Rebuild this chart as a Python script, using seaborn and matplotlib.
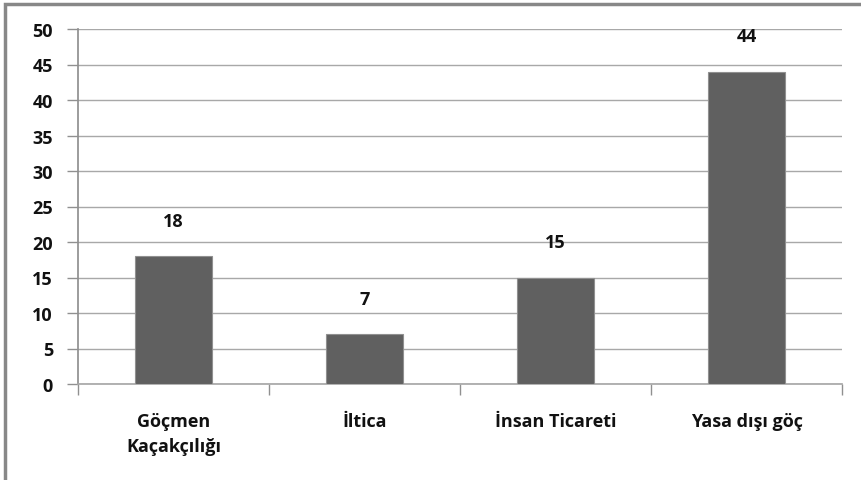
import matplotlib
matplotlib.use("Agg")
import matplotlib.pyplot as plt
import seaborn as sns
import pandas as pd
from matplotlib.patches import Rectangle
from matplotlib.ticker import FixedLocator

# data
categories = ["Göçmen\nKaçakçılığı", "İltica", "İnsan Ticareti", "Yasa dışı göç"]
values = [18, 7, 15, 44]
y_ticks = [0, 5, 10, 15, 20, 25, 30, 35, 40, 45, 50]

df = pd.DataFrame({"category": categories, "value": values})

sns.set_theme(style="white")
plt.rcParams["font.family"] = ["Open Sans", "DejaVu Sans"]

fig = plt.figure(figsize=(8.61, 4.81), dpi=100)
ax = fig.add_axes([78/861, 1-385/481, 764/861, 355/481])

sns.barplot(data=df, x="category", y="value", color="#606060", width=0.4,
            edgecolor="#909090", linewidth=0.8, saturation=1, ax=ax, zorder=3)

ax.set_ylim(0, 50)
ax.set_xlim(-0.5, len(categories) - 0.5)
ax.set_yticks(y_ticks)
ax.yaxis.grid(True, color="#a8a8a8", linewidth=1.0, zorder=0)
ax.set_axisbelow(True)

for s in ["top", "right"]:
    ax.spines[s].set_visible(False)
ax.spines["left"].set_color("#909090")
ax.spines["bottom"].set_color("#a8a8a8")

fs = 13
ax.tick_params(axis="y", which="major", length=8, color="#909090", width=1,
               labelsize=fs, pad=10, left=True)
ax.tick_params(axis="x", which="major", length=0, labelsize=fs, pad=20)
ax.xaxis.set_minor_locator(FixedLocator([i - 0.5 for i in range(len(categories) + 1)]))
ax.tick_params(axis="x", which="minor", length=8, color="#909090", width=1, bottom=True)

for lab in ax.get_yticklabels() + ax.get_xticklabels():
    lab.set_fontweight("bold")
    lab.set_color("#111111")
for lab in ax.get_xticklabels():
    lab.set_linespacing(1.5)

ax.set_xlabel("")
ax.set_ylabel("")

for i, v in enumerate(values):
    ax.annotate(str(v), (i, v), xytext=(0, 19), textcoords="offset points",
                ha="center", va="bottom", fontsize=fs, fontweight="bold", color="#111111")

# outer chart border
fig.patches.append(Rectangle((5/861, -0.05), 1.2, 1 - 5/481 + 0.05,
                             transform=fig.transFigure, fill=False,
                             edgecolor="#888888", linewidth=2.5, figure=fig))

fig.savefig("out.png", dpi=100)
